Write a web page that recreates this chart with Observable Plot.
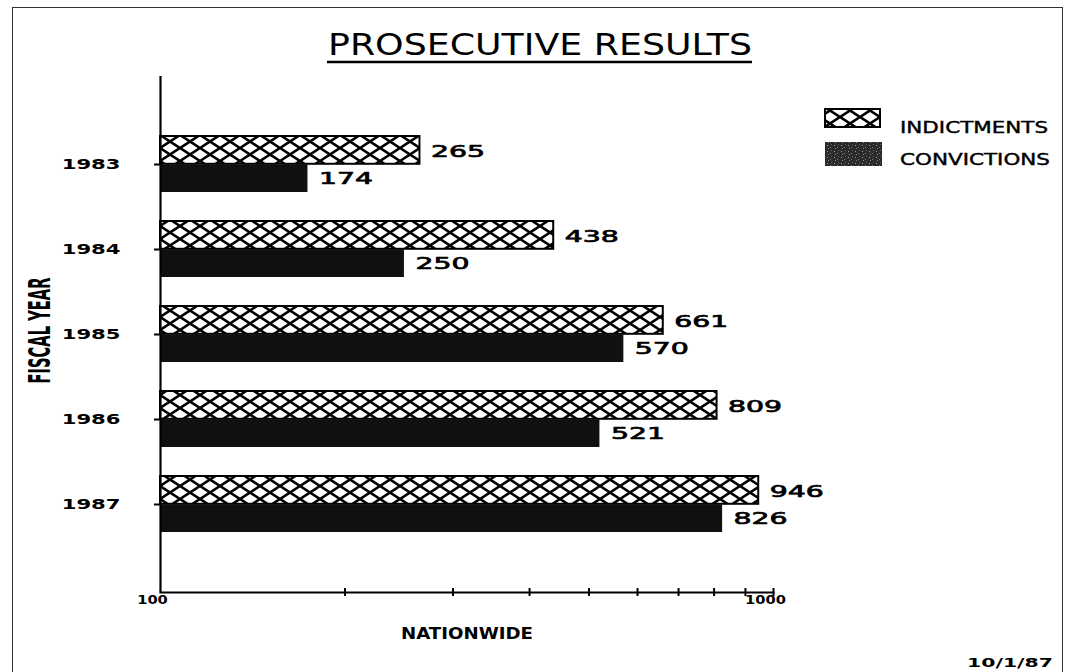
<!DOCTYPE html>
<html>
<head>
<meta charset="utf-8">
<script src="https://cdn.jsdelivr.net/npm/d3@7"></script>
<script src="https://cdn.jsdelivr.net/npm/@observablehq/plot@0.6"></script>
<style>
  html, body { margin: 0; padding: 0; background: #fff; }
  #page { position: relative; width: 1065px; height: 672px; overflow: hidden; font-family: "DejaVu Sans", sans-serif; color: #000; }
  #header { height: 70px; }
  #chart svg { display: block; }
  .overlay { position: absolute; left: 0; top: 0; pointer-events: none; }
  #border { position: absolute; left: 12px; top: 7px; width: 1051px; height: 700px; border: 1.5px solid #333; border-bottom: none; box-sizing: border-box; pointer-events: none; }
</style>
</head>
<body>
<div id="page">
  <svg id="defs" width="0" height="0" style="position:absolute">
    <defs>
      <pattern id="xhatch" patternUnits="userSpaceOnUse" width="20" height="13">
        <rect width="20" height="13" fill="#fff"></rect>
        <path d="M-10,-6.5L30,19.5M-10,19.5L30,-6.5" stroke="#000" stroke-width="2.6" fill="none"></path>
      </pattern>
      <pattern id="speckle" patternUnits="userSpaceOnUse" width="7" height="6">
        <rect width="7" height="6" fill="#2b2b2b"></rect>
        <rect x="1" y="1" width="1" height="1" fill="#9a9a9a"></rect>
        <rect x="4" y="3" width="1" height="1" fill="#7a7a7a"></rect>
        <rect x="5" y="0" width="1" height="1" fill="#5e5e5e"></rect>
        <rect x="2" y="4" width="1" height="1" fill="#8a8a8a"></rect>
      </pattern>
    </defs>
  </svg>
  <div id="header">
    <svg width="1065" height="70">
      <text id="title" x="328" y="55" font-size="30" font-family="DejaVu Sans" fill="#000">PROSECUTIVE RESULTS</text>
      <line x1="327" x2="752" y1="62" y2="62" stroke="#000" stroke-width="2.5"></line>
    </svg>
  </div>
  <div id="chart"></div>
  <svg class="overlay" id="legend" width="1065" height="672"></svg>
  <div id="border"></div>
</div>
<script>
// ---- data ----
const years = ["1983", "1984", "1985", "1986", "1987"];
const indictments = [265, 438, 661, 809, 946];
const convictions = [174, 250, 570, 521, 826];
const seriesNames = ["INDICTMENTS", "CONVICTIONS"];
const xTicks = [100, 200, 300, 400, 500, 600, 700, 800, 900, 1000];
const xTickLabels = [100, 1000];
const xLabel = "NATIONWIDE";
const yLabel = "FISCAL YEAR";
const dateLabel = "10/1/87";

const rows = years.map((year, i) => ({year, indictments: indictments[i], convictions: convictions[i]}));

// ---- layout ----
const W = 1065, H = 602, mT = 6, mB = 80, mL = 160, mR = 292;
const padIn = 0.343, padOut = 0.675;
const step = (H - mT - mB) / (years.length - padIn + 2 * padOut);
const half = step * (1 - padIn) / 2;
const base = xTicks[0];

const chart = Plot.plot({
  width: W, height: H,
  marginTop: mT, marginBottom: mB, marginLeft: mL, marginRight: mR,
  style: {fontFamily: "DejaVu Sans", color: "#000", background: "transparent", overflow: "visible"},
  x: {type: "log", domain: [xTicks[0], xTicks[xTicks.length - 1]]},
  y: {type: "band", domain: years, paddingInner: padIn, paddingOuter: padOut, align: 0.5},
  marks: [
    Plot.barX(rows, {y: "year", x1: () => base, x2: "indictments", insetBottom: half, fill: "url(#xhatch)", stroke: "#000", strokeWidth: 2}),
    Plot.barX(rows, {y: "year", x1: () => base, x2: "convictions", insetTop: half, fill: "#101010"}),
    Plot.text(rows, {y: "year", x: "indictments", text: d => String(d.indictments), dx: 11, dy: -half / 2 + 1, textAnchor: "start", fontSize: 16.5, fill: "#000", stroke: "#000", strokeWidth: 0.7}),
    Plot.text(rows, {y: "year", x: "convictions", text: d => String(d.convictions), dx: 11, dy: half / 2, textAnchor: "start", fontSize: 16.5, fill: "#000", stroke: "#000", strokeWidth: 0.7}),
    Plot.ruleX([base], {strokeWidth: 2.2}),
    Plot.frame({anchor: "bottom", strokeWidth: 2.2}),
    Plot.axisY({tickSize: 6, tickPadding: 34, strokeWidth: 2, fontSize: 14, fontWeight: "bold", label: yLabel, labelAnchor: "center", labelOffset: 132, labelArrow: "none"}),
    Plot.axisX({ticks: xTicks.slice(1), tickSize: 8, dy: -4, strokeWidth: 2, tickFormat: () => "", label: null}),
    Plot.axisX({ticks: xTickLabels, tickSize: 0, tickPadding: 2, dx: -8, fontSize: 13, fontWeight: "bold", tickFormat: d => String(d), label: xLabel, labelAnchor: "center", labelOffset: 46, labelArrow: "none"})
  ]
});
document.getElementById("chart").appendChild(chart);

// ---- text styling: wide plotter-like lettering ----
function stretch(root, sel, lenFn, extra) {
  root.querySelectorAll(sel).forEach(t => {
    const s = t.textContent;
    if (!s) return;
    t.setAttribute("textLength", lenFn(s));
    t.setAttribute("lengthAdjust", "spacingAndGlyphs");
    if (extra) extra(t);
  });
}
stretch(chart, 'g[aria-label="text"] text', s => s.length * 18);
stretch(chart, 'g[aria-label="y-axis tick label"] text', s => s.length * 14.7);
stretch(chart, 'g[aria-label="x-axis tick label"] text', s => s.length * 10.2);
stretch(chart, 'g[aria-label="x-axis label"] text', () => 132, t => { t.setAttribute("font-size", 16.5); t.setAttribute("font-weight", "bold"); });
stretch(chart, 'g[aria-label="y-axis label"] text', () => 106, t => { t.setAttribute("font-size", 30); t.setAttribute("font-weight", "bold"); t.setAttribute("dx", 4); });
const title = document.getElementById("title");
title.setAttribute("textLength", 424);
title.setAttribute("lengthAdjust", "spacingAndGlyphs");

// ---- legend + date overlay ----
const lg = d3.select("#legend");
const swatches = [
  {name: seriesNames[0], fill: "url(#xhatch)", stroke: "#000", x: 825, y: 109, w: 55, h: 18, ty: 133, tl: 148},
  {name: seriesNames[1], fill: "url(#speckle)", stroke: "none", x: 825, y: 142, w: 57, h: 24, ty: 165, tl: 150}
];
for (const s of swatches) {
  lg.append("rect").attr("x", s.x).attr("y", s.y).attr("width", s.w).attr("height", s.h)
    .attr("fill", s.fill).attr("stroke", s.stroke).attr("stroke-width", 2);
  lg.append("text").attr("x", 900).attr("y", s.ty).attr("font-size", 15.5).attr("font-family", "DejaVu Sans")
    .attr("stroke", "#000").attr("stroke-width", 0.4)
    .attr("textLength", s.tl).attr("lengthAdjust", "spacingAndGlyphs").text(s.name);
}
lg.append("text").attr("x", 967).attr("y", 667).attr("font-size", 13).attr("font-weight", "bold")
  .attr("font-family", "DejaVu Sans").attr("textLength", 86).attr("lengthAdjust", "spacingAndGlyphs").text(dateLabel);
</script>
</body>
</html>
